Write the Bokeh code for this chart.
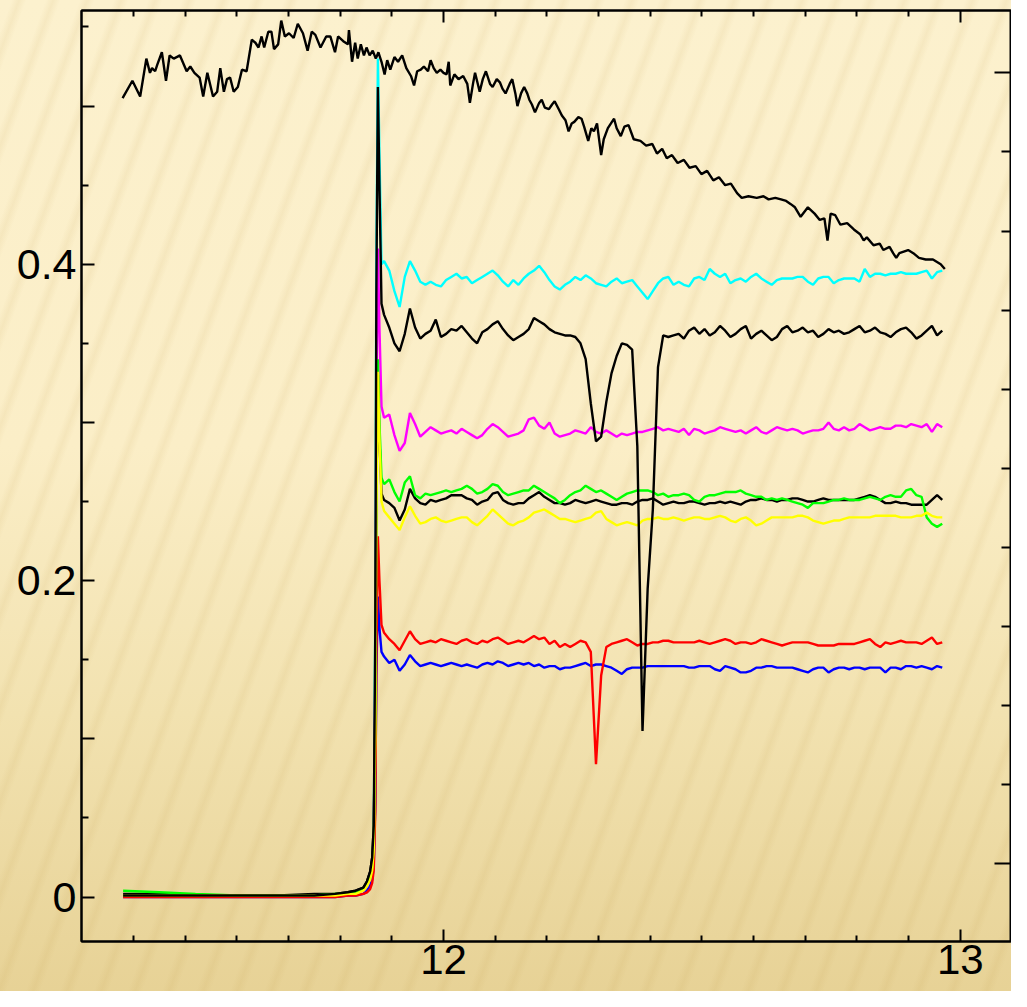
from bokeh.plotting import figure
from bokeh.models import LinearAxis, FixedTicker
from bokeh.embed import file_html
from bokeh.resources import INLINE

# ---------------- data ----------------
# shared pre-edge / edge energies (keV)
x_edge = [11.380, 11.450, 11.520, 11.600, 11.680, 11.750, 11.790, 11.815, 11.830, 11.845,
          11.852, 11.858, 11.862, 11.865, 11.868, 11.870, 11.873, 11.876, 11.880]
# shared post-edge energies (keV)
x_post = [11.885, 11.895, 11.905, 11.915, 11.925, 11.935, 11.945, 11.955, 11.965, 11.975,
          11.985, 11.995, 12.005, 12.015, 12.025, 12.035, 12.045, 12.055, 12.065, 12.075,
          12.085, 12.095, 12.105, 12.115, 12.125, 12.135, 12.145, 12.155, 12.165, 12.175,
          12.185, 12.195, 12.205, 12.215, 12.225, 12.235, 12.245, 12.255, 12.265, 12.275,
          12.285, 12.295, 12.305, 12.315, 12.325, 12.335, 12.345, 12.355, 12.365, 12.375,
          12.385, 12.395, 12.405, 12.415, 12.425, 12.435, 12.445, 12.455, 12.465, 12.475,
          12.485, 12.495, 12.505, 12.515, 12.525, 12.535, 12.545, 12.555, 12.565, 12.575,
          12.585, 12.595, 12.605, 12.615, 12.625, 12.635, 12.645, 12.655, 12.665, 12.675,
          12.685, 12.695, 12.705, 12.715, 12.725, 12.735, 12.745, 12.755, 12.765, 12.775,
          12.785, 12.795, 12.805, 12.815, 12.825, 12.835, 12.845, 12.855, 12.865, 12.875,
          12.885, 12.895, 12.905, 12.915, 12.925, 12.935, 12.945, 12.955, 12.965]

cyan_edge = [0.001, 0.001, 0.001, 0.001, 0.001, 0.001, 0.001, 0.002, 0.003, 0.005,
             0.008, 0.013, 0.020, 0.040, 0.180, 0.400, 0.530, 0.470, 0.400]
cyan_post = [0.402, 0.396, 0.383, 0.373, 0.392, 0.402, 0.396, 0.389, 0.387, 0.389,
             0.387, 0.386, 0.390, 0.392, 0.394, 0.391, 0.392, 0.388, 0.390, 0.392,
             0.394, 0.396, 0.393, 0.389, 0.386, 0.390, 0.387, 0.391, 0.394, 0.396,
             0.399, 0.395, 0.390, 0.386, 0.384, 0.387, 0.389, 0.392, 0.390, 0.393,
             0.391, 0.388, 0.387, 0.386, 0.389, 0.391, 0.388, 0.389, 0.390, 0.386,
             0.382, 0.378, 0.383, 0.388, 0.391, 0.392, 0.387, 0.389, 0.387, 0.386,
             0.391, 0.392, 0.390, 0.397, 0.394, 0.392, 0.394, 0.388, 0.390, 0.391,
             0.389, 0.392, 0.394, 0.391, 0.389, 0.387, 0.390, 0.391, 0.391, 0.391,
             0.392, 0.392, 0.389, 0.387, 0.391, 0.392, 0.392, 0.388, 0.390, 0.391,
             0.391, 0.391, 0.389, 0.397, 0.392, 0.394, 0.394, 0.393, 0.394, 0.394,
             0.395, 0.394, 0.394, 0.394, 0.395, 0.396, 0.391, 0.395, 0.396]

black2_edge = [0.001, 0.001, 0.001, 0.001, 0.001, 0.001, 0.002, 0.003, 0.004, 0.006,
               0.010, 0.016, 0.025, 0.045, 0.170, 0.380, 0.512, 0.450, 0.375]
black2_post = [0.368, 0.360, 0.350, 0.345, 0.356, 0.372, 0.360, 0.353, 0.356, 0.358,
               0.365, 0.354, 0.356, 0.359, 0.358, 0.361, 0.357, 0.353, 0.350, 0.357,
               0.359, 0.362, 0.364, 0.359, 0.355, 0.352, 0.354, 0.356, 0.359, 0.366,
               0.364, 0.362, 0.359, 0.357, 0.356, 0.355, 0.355, 0.354, 0.350, 0.340,
               0.312, 0.288, 0.291, 0.313, 0.331, 0.342, 0.350, 0.349, 0.346, 0.285,
               0.105, 0.195, 0.245, 0.335, 0.355, 0.354, 0.355, 0.356, 0.353, 0.358,
               0.360, 0.356, 0.359, 0.355, 0.357, 0.361, 0.358, 0.354, 0.356, 0.359,
               0.361, 0.353, 0.356, 0.358, 0.355, 0.352, 0.354, 0.359, 0.361, 0.357,
               0.358, 0.360, 0.357, 0.358, 0.354, 0.356, 0.359, 0.357, 0.358, 0.356,
               0.357, 0.359, 0.361, 0.357, 0.358, 0.360, 0.357, 0.356, 0.354, 0.357,
               0.359, 0.360, 0.357, 0.353, 0.355, 0.358, 0.361, 0.355, 0.358]

magenta_edge = [0.001, 0.001, 0.001, 0.001, 0.001, 0.001, 0.001, 0.002, 0.003, 0.004,
                0.007, 0.011, 0.018, 0.032, 0.140, 0.300, 0.410, 0.360, 0.310]
magenta_post = [0.303, 0.305, 0.292, 0.282, 0.287, 0.306, 0.299, 0.291, 0.294, 0.297,
                0.295, 0.293, 0.294, 0.295, 0.293, 0.296, 0.294, 0.292, 0.290, 0.292,
                0.296, 0.299, 0.297, 0.294, 0.291, 0.292, 0.293, 0.295, 0.302, 0.303,
                0.298, 0.296, 0.300, 0.293, 0.291, 0.292, 0.293, 0.295, 0.294, 0.293,
                0.297, 0.294, 0.293, 0.295, 0.293, 0.291, 0.293, 0.292, 0.293, 0.294,
                0.294, 0.295, 0.296, 0.297, 0.295, 0.296, 0.295, 0.294, 0.296, 0.292,
                0.296, 0.295, 0.293, 0.294, 0.295, 0.297, 0.296, 0.295, 0.294, 0.295,
                0.293, 0.295, 0.297, 0.294, 0.293, 0.295, 0.297, 0.296, 0.295, 0.296,
                0.295, 0.293, 0.294, 0.295, 0.295, 0.296, 0.300, 0.296, 0.295, 0.297,
                0.295, 0.296, 0.299, 0.297, 0.295, 0.296, 0.297, 0.296, 0.296, 0.298,
                0.298, 0.297, 0.299, 0.298, 0.297, 0.299, 0.294, 0.299, 0.297]

black3_edge = [0.002, 0.002, 0.001, 0.001, 0.001, 0.002, 0.002, 0.003, 0.004, 0.006,
               0.010, 0.016, 0.025, 0.045, 0.120, 0.250, 0.330, 0.290, 0.255]
black3_post = [0.251, 0.249, 0.246, 0.238, 0.245, 0.258, 0.252, 0.249, 0.248, 0.251,
               0.250, 0.251, 0.252, 0.254, 0.254, 0.254, 0.252, 0.251, 0.248, 0.250,
               0.251, 0.255, 0.256, 0.251, 0.249, 0.248, 0.249, 0.249, 0.252, 0.254,
               0.256, 0.253, 0.251, 0.249, 0.249, 0.248, 0.249, 0.251, 0.250, 0.249,
               0.250, 0.251, 0.250, 0.249, 0.248, 0.248, 0.249, 0.249, 0.248, 0.250,
               0.251, 0.251, 0.252, 0.250, 0.248, 0.249, 0.250, 0.249, 0.249, 0.250,
               0.250, 0.249, 0.248, 0.249, 0.249, 0.250, 0.249, 0.250, 0.249, 0.248,
               0.250, 0.251, 0.251, 0.252, 0.251, 0.251, 0.250, 0.251, 0.251, 0.252,
               0.252, 0.251, 0.250, 0.250, 0.251, 0.252, 0.251, 0.251, 0.251, 0.251,
               0.251, 0.251, 0.252, 0.253, 0.254, 0.253, 0.251, 0.249, 0.249, 0.250,
               0.249, 0.249, 0.248, 0.248, 0.248, 0.248, 0.251, 0.254, 0.251]

green_edge = [0.004, 0.003, 0.002, 0.001, 0.001, 0.001, 0.002, 0.002, 0.003, 0.005,
              0.008, 0.012, 0.019, 0.034, 0.120, 0.260, 0.340, 0.300, 0.265]
green_post = [0.261, 0.264, 0.256, 0.250, 0.262, 0.266, 0.254, 0.252, 0.255, 0.254,
              0.255, 0.256, 0.257, 0.256, 0.257, 0.258, 0.260, 0.258, 0.255, 0.256,
              0.258, 0.261, 0.260, 0.256, 0.254, 0.255, 0.256, 0.257, 0.257, 0.260,
              0.258, 0.256, 0.254, 0.252, 0.249, 0.251, 0.254, 0.256, 0.257, 0.260,
              0.258, 0.256, 0.257, 0.255, 0.253, 0.251, 0.253, 0.255, 0.256, 0.257,
              0.257, 0.257, 0.256, 0.254, 0.255, 0.253, 0.254, 0.254, 0.255, 0.254,
              0.251, 0.250, 0.253, 0.254, 0.254, 0.255, 0.256, 0.256, 0.256, 0.257,
              0.255, 0.254, 0.253, 0.253, 0.251, 0.252, 0.251, 0.252, 0.251, 0.250,
              0.249, 0.248, 0.246, 0.249, 0.249, 0.249, 0.250, 0.251, 0.251, 0.252,
              0.251, 0.251, 0.251, 0.252, 0.253, 0.252, 0.251, 0.253, 0.254, 0.253,
              0.253, 0.257, 0.258, 0.254, 0.253, 0.240, 0.236, 0.234, 0.236]

yellow_edge = [0.001, 0.001, 0.001, 0.001, 0.001, 0.001, 0.001, 0.002, 0.002, 0.004,
               0.007, 0.011, 0.017, 0.030, 0.100, 0.240, 0.332, 0.290, 0.250]
yellow_post = [0.244, 0.240, 0.236, 0.232, 0.240, 0.247, 0.241, 0.236, 0.237, 0.239,
               0.240, 0.238, 0.237, 0.238, 0.239, 0.240, 0.240, 0.237, 0.235, 0.238,
               0.241, 0.245, 0.242, 0.239, 0.236, 0.235, 0.237, 0.238, 0.240, 0.243,
               0.244, 0.245, 0.243, 0.241, 0.239, 0.239, 0.238, 0.237, 0.238, 0.239,
               0.240, 0.243, 0.244, 0.239, 0.237, 0.235, 0.236, 0.237, 0.236, 0.235,
               0.238, 0.239, 0.239, 0.240, 0.239, 0.239, 0.240, 0.239, 0.238, 0.239,
               0.240, 0.240, 0.239, 0.239, 0.240, 0.241, 0.240, 0.238, 0.237, 0.239,
               0.240, 0.238, 0.235, 0.236, 0.238, 0.240, 0.240, 0.240, 0.240, 0.240,
               0.241, 0.241, 0.240, 0.238, 0.237, 0.236, 0.237, 0.238, 0.238, 0.239,
               0.240, 0.240, 0.240, 0.240, 0.240, 0.241, 0.241, 0.241, 0.241, 0.241,
               0.240, 0.240, 0.240, 0.241, 0.241, 0.243, 0.241, 0.240, 0.240]

red_edge = [0.000, 0.000, 0.000, 0.000, 0.000, 0.000, 0.000, 0.001, 0.001, 0.002,
            0.003, 0.005, 0.009, 0.017, 0.055, 0.150, 0.228, 0.200, 0.172]
red_post = [0.167, 0.163, 0.160, 0.156, 0.162, 0.168, 0.163, 0.160, 0.161, 0.162,
            0.161, 0.163, 0.162, 0.161, 0.160, 0.162, 0.163, 0.161, 0.160, 0.162,
            0.161, 0.163, 0.164, 0.162, 0.160, 0.161, 0.162, 0.161, 0.163, 0.165,
            0.163, 0.164, 0.160, 0.162, 0.158, 0.160, 0.158, 0.160, 0.162, 0.161,
            0.155, 0.084, 0.140, 0.158, 0.160, 0.161, 0.162, 0.163, 0.161, 0.159,
            0.160, 0.160, 0.161, 0.161, 0.162, 0.162, 0.161, 0.161, 0.161, 0.161,
            0.161, 0.162, 0.161, 0.160, 0.161, 0.162, 0.163, 0.162, 0.160, 0.161,
            0.161, 0.160, 0.161, 0.163, 0.162, 0.161, 0.160, 0.159, 0.160, 0.161,
            0.161, 0.161, 0.161, 0.160, 0.159, 0.159, 0.159, 0.159, 0.160, 0.160,
            0.160, 0.160, 0.161, 0.162, 0.163, 0.160, 0.158, 0.161, 0.160, 0.161,
            0.162, 0.161, 0.161, 0.161, 0.160, 0.162, 0.164, 0.160, 0.161]

blue_edge = [0.000, 0.000, 0.000, 0.000, 0.000, 0.000, 0.000, 0.001, 0.001, 0.002,
             0.004, 0.007, 0.011, 0.020, 0.060, 0.140, 0.190, 0.170, 0.155]
blue_post = [0.152, 0.148, 0.150, 0.143, 0.147, 0.153, 0.149, 0.146, 0.147, 0.148,
             0.147, 0.146, 0.147, 0.148, 0.147, 0.146, 0.147, 0.146, 0.145, 0.147,
             0.148, 0.147, 0.149, 0.148, 0.146, 0.147, 0.148, 0.147, 0.148, 0.146,
             0.147, 0.145, 0.146, 0.146, 0.144, 0.145, 0.145, 0.146, 0.147, 0.148,
             0.146, 0.147, 0.147, 0.146, 0.145, 0.143, 0.141, 0.144, 0.145, 0.145,
             0.145, 0.146, 0.146, 0.146, 0.146, 0.146, 0.146, 0.146, 0.146, 0.145,
             0.145, 0.146, 0.146, 0.146, 0.144, 0.143, 0.146, 0.145, 0.144, 0.142,
             0.142, 0.143, 0.145, 0.145, 0.146, 0.146, 0.145, 0.145, 0.145, 0.145,
             0.144, 0.143, 0.142, 0.144, 0.145, 0.145, 0.142, 0.144, 0.145, 0.145,
             0.144, 0.145, 0.145, 0.144, 0.145, 0.145, 0.145, 0.142, 0.145, 0.145,
             0.144, 0.146, 0.146, 0.145, 0.146, 0.145, 0.144, 0.146, 0.145]

# reference (upper black) spectrum
top_x = [11.379, 11.398, 11.413, 11.425, 11.432, 11.436, 11.442, 11.446, 11.455, 11.463,
         11.470, 11.478, 11.490, 11.503, 11.510, 11.518, 11.528, 11.535, 11.543, 11.554,
         11.562, 11.568, 11.575, 11.581, 11.587, 11.594, 11.602, 11.610, 11.619, 11.629,
         11.636, 11.642, 11.648, 11.653, 11.661, 11.667, 11.672, 11.680, 11.686, 11.693,
         11.701, 11.710, 11.718, 11.728, 11.737, 11.745, 11.752, 11.762, 11.773, 11.781,
         11.790, 11.796, 11.806, 11.815, 11.817, 11.823, 11.829, 11.834, 11.840, 11.846,
         11.851, 11.857, 11.863, 11.869, 11.874, 11.880, 11.886, 11.891, 11.897, 11.905,
         11.912, 11.920, 11.928, 11.937, 11.943, 11.949, 11.956, 11.962, 11.970, 11.975,
         11.981, 11.987, 11.994, 12.000, 12.006, 12.010, 12.013, 12.021, 12.029, 12.038,
         12.046, 12.051, 12.057, 12.061, 12.070, 12.076, 12.082, 12.090, 12.095, 12.103,
         12.109, 12.114, 12.120, 12.128, 12.133, 12.139, 12.143, 12.150, 12.156, 12.162,
         12.166, 12.171, 12.177, 12.185, 12.190, 12.196, 12.204, 12.210, 12.215, 12.223,
         12.229, 12.236, 12.242, 12.248, 12.253, 12.261, 12.267, 12.272, 12.280, 12.286,
         12.291, 12.297, 12.305, 12.310, 12.318, 12.324, 12.330, 12.335, 12.343, 12.350,
         12.358, 12.368, 12.381, 12.392, 12.404, 12.413, 12.423, 12.432, 12.442, 12.453,
         12.465, 12.476, 12.488, 12.499, 12.510, 12.522, 12.533, 12.545, 12.556, 12.568,
         12.577, 12.590, 12.606, 12.619, 12.629, 12.642, 12.653, 12.663, 12.672, 12.680,
         12.691, 12.705, 12.718, 12.728, 12.737, 12.743, 12.749, 12.758, 12.768, 12.781,
         12.794, 12.806, 12.813, 12.819, 12.832, 12.844, 12.851, 12.863, 12.870, 12.876,
         12.882, 12.899, 12.909, 12.920, 12.933, 12.947, 12.962, 12.970]
top_y = [0.505, 0.516, 0.506, 0.530, 0.521, 0.524, 0.522, 0.526, 0.534, 0.516,
         0.532, 0.530, 0.532, 0.522, 0.525, 0.521, 0.518, 0.506, 0.521, 0.506,
         0.509, 0.524, 0.509, 0.517, 0.518, 0.509, 0.512, 0.523, 0.522, 0.542,
         0.540, 0.537, 0.544, 0.537, 0.547, 0.547, 0.536, 0.539, 0.554, 0.544,
         0.546, 0.543, 0.552, 0.546, 0.535, 0.547, 0.545, 0.537, 0.544, 0.544,
         0.534, 0.544, 0.541, 0.539, 0.548, 0.528, 0.540, 0.530, 0.539, 0.532,
         0.537, 0.532, 0.535, 0.530, 0.534, 0.528, 0.520, 0.529, 0.523, 0.531,
         0.528, 0.532, 0.524, 0.519, 0.513, 0.522, 0.523, 0.525, 0.522, 0.529,
         0.524, 0.521, 0.523, 0.521, 0.520, 0.528, 0.513, 0.520, 0.517, 0.519,
         0.514, 0.502, 0.514, 0.521, 0.509, 0.517, 0.522, 0.514, 0.512, 0.517,
         0.515, 0.511, 0.508, 0.514, 0.517, 0.508, 0.500, 0.508, 0.512, 0.508,
         0.504, 0.501, 0.496, 0.502, 0.504, 0.499, 0.498, 0.501, 0.503, 0.498,
         0.494, 0.491, 0.484, 0.489, 0.490, 0.493, 0.492, 0.487, 0.478, 0.486,
         0.484, 0.489, 0.469, 0.479, 0.486, 0.489, 0.492, 0.486, 0.481, 0.487,
         0.488, 0.479, 0.478, 0.475, 0.476, 0.470, 0.473, 0.467, 0.469, 0.464,
         0.466, 0.461, 0.462, 0.457, 0.459, 0.453, 0.455, 0.450, 0.451, 0.445,
         0.442, 0.443, 0.442, 0.443, 0.441, 0.442, 0.441, 0.440, 0.438, 0.436,
         0.430, 0.436, 0.432, 0.428, 0.429, 0.415, 0.432, 0.431, 0.425, 0.426,
         0.422, 0.419, 0.415, 0.417, 0.412, 0.413, 0.409, 0.411, 0.407, 0.404,
         0.407, 0.409, 0.407, 0.404, 0.403, 0.403, 0.400, 0.397]

# axis ticks
y_major = [0.0, 0.1, 0.2, 0.3, 0.4, 0.5]
y_minor = [0.05, 0.15, 0.25, 0.35, 0.45, 0.55]
y_labels = {0.0: "0", 0.1: "", 0.2: "0.2", 0.3: "", 0.4: "0.4", 0.5: ""}
x_major = [12, 13]
x_minor = [11.4, 11.5, 11.6, 11.7, 11.8, 11.9, 12.1, 12.2, 12.3, 12.4, 12.5, 12.6, 12.7, 12.8, 12.9]
x_labels = {12: "12", 13: "13"}
r_major = [0.021, 0.521]
r_minor = [0.071, 0.121, 0.171, 0.221, 0.271, 0.321, 0.371, 0.421, 0.471]

# ---------------- figure ----------------
p = figure(width=1011, height=991, x_range=(11.2995, 13.099), y_range=(-0.0281, 0.5604),
           output_backend="svg", toolbar_location=None,
           x_axis_location=None, y_axis_location=None,
           min_border_left=81, min_border_right=0, min_border_top=10, min_border_bottom=50)
p.xgrid.grid_line_color = None
p.ygrid.grid_line_color = None
p.background_fill_color = None
p.border_fill_color = None
p.outline_line_color = "black"
p.outline_line_width = 2
p.styles = {
    "background-color": "#F4E4B6",
    "background-image": (
        "repeating-linear-gradient(110deg, rgba(255,250,225,0.0) 0px, rgba(255,250,225,0.0) 11px, "
        "rgba(185,145,60,0.09) 18px, rgba(255,250,225,0.0) 25px, rgba(255,250,225,0.0) 32px), "
        "linear-gradient(180deg, #FCF1CE 0%, #FBEEC7 45%, #F2E2B0 72%, #E7D296 100%)"
    ),
}


def style_axis(ax, tick_in, minor_in, font_size="43px"):
    ax.axis_line_color = "black"
    ax.axis_line_width = 2
    ax.major_tick_line_color = "black"
    ax.major_tick_line_width = 2
    ax.minor_tick_line_color = "black"
    ax.minor_tick_line_width = 2
    ax.major_tick_in = tick_in
    ax.major_tick_out = 0
    ax.minor_tick_in = minor_in
    ax.minor_tick_out = 0
    ax.major_label_text_font = "Liberation Sans"
    ax.major_label_text_font_size = font_size
    ax.major_label_text_color = "black"


left = LinearAxis(ticker=FixedTicker(ticks=y_major, minor_ticks=y_minor),
                  major_label_overrides=y_labels, major_label_standoff=5)
style_axis(left, 13, 7)
p.add_layout(left, "left")

bottom = LinearAxis(ticker=FixedTicker(ticks=x_major, minor_ticks=x_minor),
                    major_label_overrides=x_labels, major_label_standoff=3)
style_axis(bottom, 12, 6, "42px")
p.add_layout(bottom, "below")

top = LinearAxis(ticker=FixedTicker(ticks=x_major, minor_ticks=x_minor),
                 major_label_overrides={12: "", 13: ""}, major_label_standoff=0)
style_axis(top, 12, 6, "0px")
p.add_layout(top, "above")

right = LinearAxis(ticker=FixedTicker(ticks=r_major, minor_ticks=r_minor),
                   major_label_overrides={0.021: "", 0.521: ""}, major_label_standoff=0)
style_axis(right, 17, 10, "0px")
p.add_layout(right, "right")

# ---------------- lines ----------------
lw = 2.4
p.line(top_x, top_y, line_color="black", line_width=lw)
p.line(x_edge + x_post, cyan_edge + cyan_post, line_color="#00FFFF", line_width=lw)
p.line(x_edge + x_post, magenta_edge + magenta_post, line_color="#FF00FF", line_width=lw)
p.line(x_edge + x_post, blue_edge + blue_post, line_color="#0000FF", line_width=lw)
p.line(x_edge + x_post, red_edge + red_post, line_color="#FF0000", line_width=lw)
p.line(x_edge + x_post, black3_edge + black3_post, line_color="black", line_width=lw)
p.line(x_edge + x_post, green_edge + green_post, line_color="#00FF00", line_width=lw)
p.line(x_edge + x_post, yellow_edge + yellow_post, line_color="#FFFF00", line_width=lw)
p.line(x_edge + x_post, black2_edge + black2_post, line_color="black", line_width=lw)

open("out.html", "w").write(file_html(p, INLINE))
